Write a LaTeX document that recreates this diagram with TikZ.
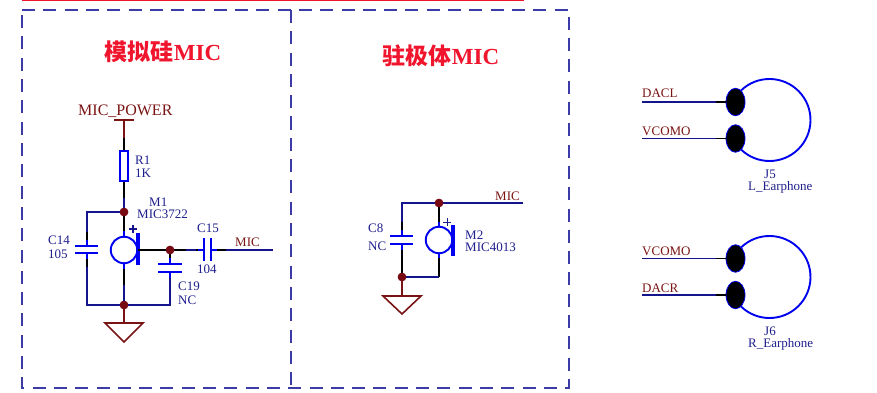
\documentclass[tikz,border=0pt]{standalone}
\usepackage{fontspec}
\setmainfont{Liberation Serif}
\newfontfamily\cjkfont{Noto Sans CJK SC}
\definecolor{netred}{HTML}{7A1414}
\definecolor{wirenavy}{HTML}{14148C}
\definecolor{partblue}{HTML}{0000F0}
\definecolor{lblblue}{HTML}{1E1E8C}
\definecolor{titlered}{HTML}{F0142D}
\definecolor{dashblue}{HTML}{3C3CA8}
\definecolor{dotred}{HTML}{780A14}
\usetikzlibrary{shapes.geometric}
\tikzset{
  x=1pt,y=-1pt,
  wire/.style={draw=wirenavy,line width=1.6pt},
  pin/.style={draw=black,line width=1.6pt},
  stub/.style={draw=partblue,line width=1.6pt},
  plate/.style={draw=partblue,line width=1.9pt},
  pwrline/.style={draw=netred,line width=1.6pt},
  zone/.style={draw=dashblue,line width=1.1pt,dash pattern=on 13pt off 8.3pt},
  dot/.style={circle,fill=dotred,draw=none,inner sep=0pt,minimum size=8.5pt},
  micbody/.style={circle,draw=partblue,line width=1.9pt,inner sep=0pt,minimum size=26.5pt},
  res/.style={rectangle,draw=partblue,line width=1.9pt,fill=white,inner sep=0pt,minimum width=8pt,minimum height=30pt},
  ear/.style={ellipse,fill=black,draw=partblue,line width=.8pt,inner sep=0pt,minimum width=19pt,minimum height=27.5pt},
  lbl/.style={inner sep=0pt,text=lblblue,font=\fontsize{13}{14}\selectfont,anchor=west},
  netl/.style={inner sep=0pt,text=netred,font=\fontsize{13}{14}\selectfont,anchor=west},
  ttl/.style={inner sep=0pt,text=titlered,font=\fontsize{23}{25}\selectfont\bfseries},
  gnd/.style={draw=netred,line width=1.6pt,line join=miter},
}
\begin{document}
\begin{tikzpicture}
\useasboundingbox (0,0) rectangle (877,393);
% top line
\coordinate (topa) at (22,0.5); \coordinate (topb) at (524,0.5);
\draw[draw=titlered,line width=2pt] (topa) -- (topb);
% zones
\coordinate (z1) at (22,10); \coordinate (z2) at (569,10);
\coordinate (z3) at (569,388); \coordinate (z4) at (22,388);
\coordinate (z5) at (291,10); \coordinate (z6) at (291,388);
\draw[zone] (z1) -- (z2) -- (z3) -- (z4) -- cycle;
\draw[zone] (z5) -- (z6);
% titles
\node[ttl] (t1) at (163,52) {{\cjkfont 模拟硅}MIC};
\node[ttl] (t2) at (441,56) {{\cjkfont 驻极体}MIC};

% ---- left circuit
\coordinate (pwra) at (114,120); \coordinate (pwrb) at (134,120); \coordinate (pwrc) at (124,120);
\coordinate (pwrd) at (124,138);
\node[res] (R1) at (124,166) {};
\node[dot] (j1) at (124,212) {};
\node[dot] (j2) at (124,305) {};
\node[dot] (j3) at (170,250) {};
\node[micbody] (M1) at (124,250) {};
\coordinate (m1a) at (138,233); \coordinate (m1b) at (138,265); \coordinate (m1o) at (138,250);
\coordinate (c14t) at (87,212); \coordinate (c14b) at (87,305);
\coordinate (c14p1l) at (75,246); \coordinate (c14p1r) at (98,246);
\coordinate (c14p2l) at (75,253); \coordinate (c14p2r) at (98,253);
\coordinate (c14u) at (87,246); \coordinate (c14d) at (87,253);
\coordinate (c15l) at (204,250); \coordinate (c15r) at (211,250);
\coordinate (c15lt) at (204,238); \coordinate (c15lb) at (204,261);
\coordinate (c15rt) at (211,238); \coordinate (c15rb) at (211,261);
\coordinate (micend) at (273,250);
\coordinate (c19u) at (170,264); \coordinate (c19d) at (170,272);
\coordinate (c19p1l) at (158,264); \coordinate (c19p1r) at (182,264);
\coordinate (c19p2l) at (158,272); \coordinate (c19p2r) at (182,272);
\coordinate (c19b) at (170,305);
\coordinate (g1s) at (124,323);
\coordinate (g1l) at (105,323); \coordinate (g1r) at (143,323); \coordinate (g1t) at (124,342);
\draw[pwrline] (pwra) -- (pwrb);
\draw[pwrline] (pwrc) -- (pwrd);
\draw[pin] (pwrd) -- (R1.north);
\draw[pin] (R1.south) -- (j1);
\draw[wire] (j1) -- ++(0,-14);
\draw[pin] (j1) -- (M1.north);
\draw[stub] (124,231) -- (M1.north);
\draw[pin] (M1.south) -- (j2);
\draw[stub] (M1.south) -- ++(0,5);
\draw[wire] (124,285) -- (j2);
\draw[wire] (j1) -- (c14t) -- (87,232);
\draw[pin] (87,232) -- (87,240);
\draw[stub] (87,240) -- (c14u);
\draw[stub] (c14d) -- (87,259);
\draw[pin] (87,259) -- (87,267);
\draw[wire] (87,267) -- (c14b) -- (j2);
\draw[plate] (c14p1l) -- (c14p1r);
\draw[plate] (c14p2l) -- (c14p2r);
\draw[draw=partblue,line width=3.2pt] (m1a) -- (m1b);
\draw[pin] (m1o) -- (j3);
\draw[pin] (j3) -- (c15l);
\draw[wire] (186,250) -- (196,250);
\draw[stub] (198,250) -- (c15l);
\draw[stub] (c15r) -- (217,250);
\draw[pin] (217,250) -- (226,250);
\draw[wire] (226,250) -- (micend);
\draw[plate] (c15lt) -- (c15lb);
\draw[plate] (c15rt) -- (c15rb);
\draw[pin] (j3) -- (c19u);
\draw[stub] (170,258) -- (c19u);
\draw[plate] (c19p1l) -- (c19p1r);
\draw[plate] (c19p2l) -- (c19p2r);
\draw[stub] (c19d) -- (170,278);
\draw[wire] (170,278) -- (c19b) -- (j2);
\draw[pwrline] (j2) -- (g1s);
\draw[gnd] (g1l) -- (g1r) -- (g1t) -- cycle;
\draw[draw=wirenavy,line width=1.7pt] (129,229) -- (137,229) (133,225) -- (133,233);
\node[dot] at (j1) {}; \node[dot] at (j2) {}; \node[dot] at (j3) {};
% labels
\node[netl,font=\fontsize{16}{16}\selectfont] (lp) at (78,111) {MIC\_POWER};
\node[lbl] (lr1) at (135,160) {R1};
\node[lbl] (lr1v) at (135,173) {1K};
\node[lbl] (lm1) at (149,202) {M1};
\node[lbl] (lm1v) at (137,214.5) {MIC3722};
\node[lbl] (lc14) at (48,240) {C14};
\node[lbl] (lc14v) at (48,254) {105};
\node[lbl] (lc15) at (197,228.5) {C15};
\node[lbl] (lc15v) at (197,269.5) {104};
\node[lbl] (lc19) at (178,286.5) {C19};
\node[lbl] (lc19v) at (178,300) {NC};
\node[netl] (lmic1) at (235,242) {MIC};

% ---- middle circuit
\node[dot] (j4) at (439,203) {};
\node[dot] (j5) at (402,277) {};
\node[micbody] (M2) at (439,240) {};
\coordinate (w2l) at (402,203); \coordinate (w2r) at (523,203);
\coordinate (m2a) at (453,225); \coordinate (m2b) at (453,256);
\coordinate (c8u) at (402,236); \coordinate (c8d) at (402,244);
\coordinate (c8p1l) at (390,236); \coordinate (c8p1r) at (413,236);
\coordinate (c8p2l) at (390,244); \coordinate (c8p2r) at (413,244);
\coordinate (m2c) at (439,277);
\coordinate (g2s) at (402,296);
\coordinate (g2l) at (383,296); \coordinate (g2r) at (421,296); \coordinate (g2t) at (402,314);
\draw[wire] (w2r) -- (w2l) -- (402,222);
\draw[pin] (402,222) -- (402,230);
\draw[stub] (402,230) -- (c8u);
\draw[plate] (c8p1l) -- (c8p1r);
\draw[plate] (c8p2l) -- (c8p2r);
\draw[stub] (c8d) -- (402,250);
\draw[pin] (402,250) -- (j5);
\draw[pin] (j4) -- (M2.north);
\draw[stub] (439,222) -- (M2.north);
\draw[stub] (M2.south) -- ++(0,4);
\draw[pin] (439,258) -- (m2c);
\draw[wire] (m2c) -- (j5);
\draw[draw=partblue,line width=3.2pt] (m2a) -- (m2b);
\draw[pwrline] (j5) -- (g2s);
\draw[gnd] (g2l) -- (g2r) -- (g2t) -- cycle;
\draw[draw=lblblue,line width=.6pt] (443,222) -- (451,222) (447,218) -- (447,226);
\node[dot] at (j4) {}; \node[dot] at (j5) {};
\node[lbl] (lc8) at (368,228) {C8};
\node[lbl] (lc8v) at (368,246) {NC};
\node[lbl] (lm2) at (465,235) {M2};
\node[lbl] (lm2v) at (465,247.5) {MIC4013};
\node[netl] (lmic2) at (495,196) {MIC};

% ---- earphones
\coordinate (a1) at (642,102); \coordinate (a2) at (642,138.5);
\coordinate (b1) at (642,258.5); \coordinate (b2) at (642,295);
\coordinate (arc1) at (741,90.5); \coordinate (arc2) at (741,247.5);
\node[ear] (e1) at (735.5,102) {};
\node[ear] (e2) at (735.5,138.5) {};
\node[ear] (e3) at (735.5,258.5) {};
\node[ear] (e4) at (735.5,295) {};
\draw[wire] (a1) -- (716,102); \draw[pin] (716,102) -- (e1);
\draw[wire] (a2) -- (716,138.5); \draw[pin] (716,138.5) -- (e2);
\draw[wire] (b1) -- (716,258.5); \draw[pin] (716,258.5) -- (e3);
\draw[wire] (b2) -- (716,295); \draw[pin] (716,295) -- (e4);
\draw[draw=partblue,line width=1.9pt] (arc1) arc[start angle=-134,end angle=134,radius=41];
\draw[draw=partblue,line width=1.9pt] (arc2) arc[start angle=-134,end angle=134,radius=41];
\node[netl] (l1) at (642,93.5) {DACL};
\node[netl] (l2) at (642,131) {VCOMO};
\node[netl] (l3) at (642,251) {VCOMO};
\node[netl] (l4) at (642,288) {DACR};
\node[lbl,font=\fontsize{13}{14}\selectfont] (lj5) at (764,174.5) {J5};
\node[lbl,font=\fontsize{13}{14}\selectfont] (lj5v) at (748,187) {L\_Earphone};
\node[lbl,font=\fontsize{13}{14}\selectfont] (lj6) at (764,331) {J6};
\node[lbl,font=\fontsize{13}{14}\selectfont] (lj6v) at (748,344) {R\_Earphone};
\end{tikzpicture}
\end{document}
